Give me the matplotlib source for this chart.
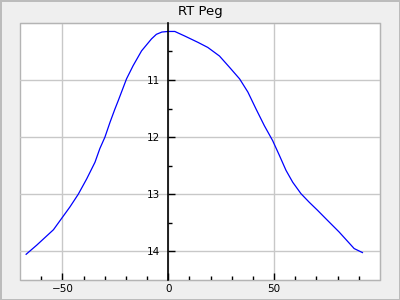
import matplotlib
matplotlib.use("Agg")
import matplotlib.pyplot as plt
from matplotlib.patches import Rectangle
from matplotlib.ticker import FixedLocator

# light curve (x offset, magnitude)
x_vals = [-67.1, -62.1, -54.2, -50.3, -46.4, -42.5, -38.5, -34.6, -32.3, -29.9,
          -27.5, -25.2, -23.6, -19.7, -16.6, -12.6, -7.9, -5.6, -3.0, 0.0,
          3.1, 7.8, 14.0, 18.7, 24.2, 29.0, 33.7, 37.6, 41.5, 45.4,
          49.3, 52.5, 55.6, 58.8, 62.7, 66.6, 70.5, 74.5, 80.7, 87.8, 91.7]
mag_vals = [14.05, 13.89, 13.62, 13.42, 13.22, 13.00, 12.73, 12.44, 12.20, 12.00,
            11.74, 11.51, 11.36, 10.98, 10.75, 10.49, 10.28, 10.20, 10.16, 10.15,
            10.15, 10.23, 10.34, 10.43, 10.58, 10.78, 10.98, 11.21, 11.51, 11.80,
            12.06, 12.32, 12.58, 12.79, 12.99, 13.14, 13.28, 13.43, 13.66, 13.95, 14.02]
x_major = [-50, 0, 50]
x_minor = [-60, -40, -30, -20, -10, 10, 20, 30, 40, 60, 70, 80, 90]
y_major = [11, 12, 13, 14]
y_minor = [10.5, 11.5, 12.5, 13.5]
title = "RT Peg"

GRAY = "#b4b4b4"
GRID = "#c8c8c8"

fig = plt.figure(figsize=(4, 3), dpi=100)
fig.patch.set_facecolor("#efefef")
fig.patch.set_edgecolor("#bcbcbc")
fig.patch.set_linewidth(2)

ax = fig.add_axes([0.05, 0.0667, 0.90, 0.857])
ax.set_facecolor("white")

ax.plot(x_vals, mag_vals, color="#0000ff", lw=0.9)

ax.set_xlim(-70, 100)
ax.set_ylim(14.5, 10)

ax.xaxis.set_major_locator(FixedLocator(x_major))
ax.xaxis.set_minor_locator(FixedLocator(x_minor))
ax.yaxis.set_major_locator(FixedLocator(y_major))
ax.yaxis.set_minor_locator(FixedLocator(y_minor))

ax.grid(True, which="major", color=GRID, lw=1)
ax.set_axisbelow(True)

# left spine runs through x = 0, other sides are a gray frame
ax.spines["left"].set_position(("data", 0))
ax.spines["left"].set_color("black")
ax.spines["left"].set_linewidth(1.2)
ax.spines["left"].set_zorder(3)
for side in ["top", "right", "bottom"]:
    ax.spines[side].set_color(GRAY)
ax.add_patch(Rectangle((0, 0), 1, 1, transform=ax.transAxes, fill=False,
                       edgecolor=GRAY, lw=1, clip_on=False, zorder=0.5))

ax.tick_params(which="both", direction="in", color="black", labelsize=7.5,
               top=False, right=False)
ax.tick_params(which="major", length=5, width=1)
ax.tick_params(which="minor", length=3, width=1)
ax.tick_params(axis="x", pad=3)
ax.tick_params(axis="y", pad=6)

ax.set_title(title, fontsize=9.5, pad=6)

fig.savefig("out.png", dpi=100, facecolor=fig.get_facecolor(), edgecolor=fig.get_edgecolor())
